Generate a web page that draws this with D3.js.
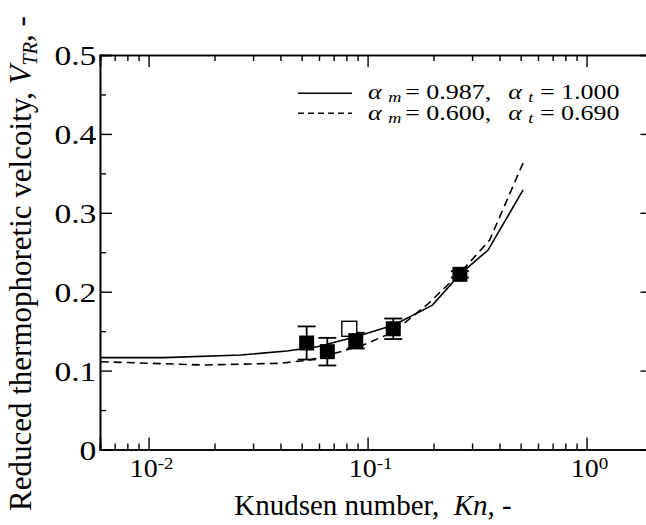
<!DOCTYPE html>
<html>
<head>
<meta charset="utf-8">
<script src="https://cdn.jsdelivr.net/npm/d3@7"></script>
</head>
<body style="margin:0;padding:0;background:#fff">
<svg id="chart" width="646" height="525" style="display:block"></svg>
<script>
// ---- data ----
const xMajorTicks = [0.01, 0.1, 1];
const xMajorLabels = ["-2", "-1", "0"];
const yMajorTicks = [0, 0.1, 0.2, 0.3, 0.4, 0.5];
const yTickLabels = ["0", "0.1", "0.2", "0.3", "0.4", "0.5"];
const yMinorTicks = [0.05, 0.15, 0.25, 0.35, 0.45];

// solid model curve: alpha_m = 0.987, alpha_t = 1.000
const solidKn = [0.00605, 0.0118, 0.0264, 0.0428, 0.059, 0.0883, 0.132, 0.1977, 0.264, 0.355, 0.513];
const solidV  = [0.1164, 0.1164, 0.1198, 0.1248, 0.1303, 0.143, 0.1578, 0.183, 0.222, 0.2528, 0.329];

// dashed model curve: alpha_m = 0.600, alpha_t = 0.690
const dashKn = [0.00605, 0.0176, 0.0394, 0.0545, 0.0751, 0.0957, 0.132, 0.19, 0.264, 0.361, 0.516];
const dashV  = [0.1113, 0.1071, 0.1092, 0.1134, 0.124, 0.1324, 0.1493, 0.1853, 0.2236, 0.2655, 0.3648];

// experimental points (filled)
const expKn  = [0.0527, 0.0655, 0.0883, 0.131, 0.264];
const expV   = [0.135, 0.124, 0.138, 0.153, 0.222];
const expErr = [0.021, 0.0175, 0.010, 0.013, 0.004];
// experimental point (open)
const openKn = [0.0825];
const openV  = [0.153];

const legendLabels = [
  {am: "0.987", at: "1.000"},
  {am: "0.600", at: "0.690"}
];

// ---- layout ----
const FONT = '"Liberation Serif"';
const svg = d3.select("#chart");
const L = 100, R = 652.5, T = 55, B = 449.5;
const x = d3.scaleLog().domain([0.006, 2]).range([L, R]);
const y = d3.scaleLinear().domain([0, 0.5]).range([B, T]);

const xMinor = [];
for (let e = -3; e <= 0; e++) for (let k = 2; k <= 9; k++) {
  const v = k * Math.pow(10, e);
  if (v >= 0.006 && v <= 2) xMinor.push(v);
}

function styleAxis(g) {
  g.select(".domain").attr("stroke", "#000").attr("stroke-width", 1.6);
  g.selectAll(".tick line").attr("stroke", "#000").attr("stroke-width", 1.4);
}

// bottom axis
svg.append("g").attr("transform", `translate(0,${B})`)
  .call(d3.axisBottom(x).tickValues(xMajorTicks).tickSize(-12).tickFormat(""))
  .call(styleAxis);
svg.append("g").attr("transform", `translate(0,${B})`)
  .call(d3.axisBottom(x).tickValues(xMinor).tickSize(-6).tickFormat(""))
  .call(styleAxis);
// bottom labels with superscripts
xMajorTicks.forEach((v, i) => {
  const t = svg.append("text")
    .attr("transform", `translate(${x(v) + 3},477) scale(1.12,1)`)
    .attr("text-anchor", "middle").attr("font-size", 25)
    .style("font-family", FONT).attr("fill", "#000");
  t.append("tspan").text("10");
  t.append("tspan").attr("dy", -8).attr("font-size", 17).text(xMajorLabels[i]);
});

// top axis
svg.append("g").attr("transform", `translate(0,${T})`)
  .call(d3.axisTop(x).tickValues(xMajorTicks).tickSize(-12).tickFormat(""))
  .call(styleAxis);
svg.append("g").attr("transform", `translate(0,${T})`)
  .call(d3.axisTop(x).tickValues(xMinor).tickSize(-6).tickFormat(""))
  .call(styleAxis);

// left axis
const gyL = svg.append("g").attr("transform", `translate(${L},0)`)
  .call(d3.axisLeft(y).tickValues(yMajorTicks).tickSize(-12).tickPadding(3)
        .tickFormat((d, i) => yTickLabels[i]))
  .call(styleAxis);
gyL.selectAll(".tick text").attr("font-size", 28).style("font-family", FONT)
  .attr("fill", "#000").attr("dy", "0.34em").attr("transform", "scale(1.2,1)");
svg.append("g").attr("transform", `translate(${L},0)`)
  .call(d3.axisLeft(y).tickValues(yMinorTicks).tickSize(-6).tickFormat(""))
  .call(styleAxis);

// right axis
svg.append("g").attr("transform", `translate(${R},0)`)
  .call(d3.axisRight(y).tickValues(yMajorTicks).tickSize(-12).tickFormat(""))
  .call(styleAxis);
svg.append("g").attr("transform", `translate(${R},0)`)
  .call(d3.axisRight(y).tickValues(yMinorTicks).tickSize(-6).tickFormat(""))
  .call(styleAxis);

// curves
const line = d3.line().x(d => x(d[0])).y(d => y(d[1]));
svg.append("path").datum(solidKn.map((k, i) => [k, solidV[i]]))
  .attr("d", line).attr("fill", "none").attr("stroke", "#000").attr("stroke-width", 1.6);
svg.append("path").datum(dashKn.map((k, i) => [k, dashV[i]]))
  .attr("d", line).attr("fill", "none").attr("stroke", "#000").attr("stroke-width", 1.6)
  .attr("stroke-dasharray", "8,5");

// error bars
const cap = 9;
expKn.forEach((k, i) => {
  const cx = x(k), y1 = y(expV[i] + expErr[i]), y2 = y(expV[i] - expErr[i]);
  const g = svg.append("g").attr("stroke", "#000").attr("stroke-width", 1.8);
  g.append("line").attr("x1", cx).attr("x2", cx).attr("y1", y1).attr("y2", y2);
  g.append("line").attr("x1", cx - cap).attr("x2", cx + cap).attr("y1", y1).attr("y2", y1);
  g.append("line").attr("x1", cx - cap).attr("x2", cx + cap).attr("y1", y2).attr("y2", y2);
});
const sq = 15;
// open square
svg.selectAll(".open").data(openKn).enter().append("rect")
  .attr("x", d => x(d) - sq / 2).attr("y", (d, i) => y(openV[i]) - sq / 2)
  .attr("width", sq).attr("height", sq).attr("fill", "#fff").attr("stroke", "#000").attr("stroke-width", 1.4);
// filled squares
svg.selectAll(".filled").data(expKn).enter().append("rect")
  .attr("x", d => x(d) - sq / 2).attr("y", (d, i) => y(expV[i]) - sq / 2)
  .attr("width", sq).attr("height", sq).attr("fill", "#000");

// legend
legendLabels.forEach((lab, i) => {
  const ly = 93.3 + i * 20;
  svg.append("line").attr("x1", 298).attr("x2", 352).attr("y1", ly).attr("y2", ly)
    .attr("stroke", "#000").attr("stroke-width", 1.6)
    .attr("stroke-dasharray", i === 1 ? "6,4" : null);
  const t = svg.append("text").attr("transform", `translate(368,${98.5 + i * 21.5}) scale(1.3,1)`)
    .attr("font-size", 20).style("font-family", FONT).style("white-space", "pre").attr("fill", "#000");
  t.append("tspan").attr("font-style", "italic").text("α");
  t.append("tspan").attr("font-style", "italic").attr("font-size", 14).attr("dx", 5).attr("dy", 3).text("m");
  t.append("tspan").attr("dy", -3).attr("dx", 3).text("= " + lab.am + ",");
  t.append("tspan").attr("dx", 13).attr("font-style", "italic").text("α");
  t.append("tspan").attr("font-style", "italic").attr("font-size", 14).attr("dx", 5).attr("dy", 3).text("t");
  t.append("tspan").attr("dy", -3).attr("dx", 5).text("= " + lab.at);
});

// x axis title
const xt = svg.append("text").attr("x", 373).attr("y", 515).attr("text-anchor", "middle")
  .attr("font-size", 29).style("font-family", FONT).style("white-space", "pre").attr("fill", "#000");
xt.append("tspan").text("Knudsen number,  ");
xt.append("tspan").attr("font-style", "italic").text("Kn");
xt.append("tspan").text(", -");

// y axis title
const yt = svg.append("text").attr("transform", "translate(31,511) rotate(-90)")
  .attr("text-anchor", "start").attr("font-size", 31).style("font-family", FONT)
  .style("white-space", "pre").attr("fill", "#000");
yt.append("tspan").text("Reduced thermophoretic velcoity, ");
yt.append("tspan").attr("font-style", "italic").text("V");
yt.append("tspan").attr("font-style", "italic").attr("font-size", 20).attr("dy", 6).text("TR");
yt.append("tspan").attr("dy", -6).text(", -");
</script>
</body>
</html>
